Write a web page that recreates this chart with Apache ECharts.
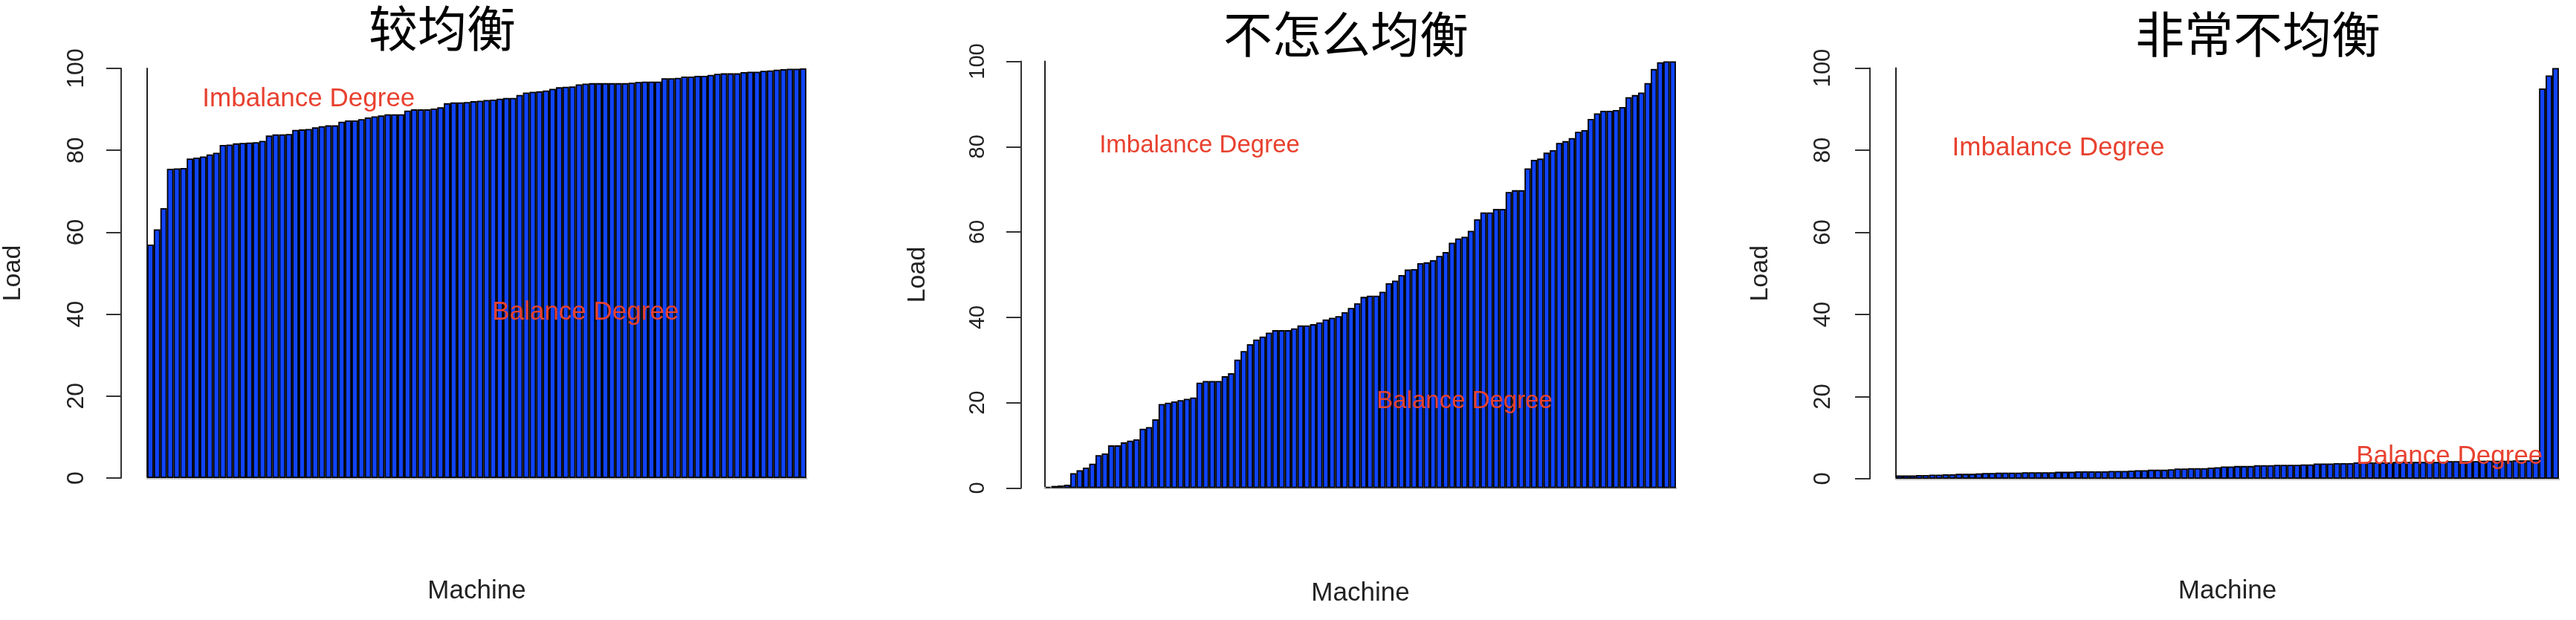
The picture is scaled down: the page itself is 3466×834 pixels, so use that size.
<!DOCTYPE html>
<html>
<head>
<meta charset="utf-8">
<script src="https://cdn.jsdelivr.net/npm/echarts@6/dist/echarts.min.js"></script>
<style>
html,body{margin:0;padding:0;background:#fff;}
#chart{width:3466px;height:834px;}
</style>
</head>
<body>
<div id="chart"></div>
<script>
// ---- data ----
const panelTitles = ['较均衡', '不怎么均衡', '非常不均衡'];
const xName = 'Machine';
const yName = 'Load';
const yTicks = [0, 20, 40, 60, 80, 100];

const balancedLoad = [
  57, 60.7, 65.9, 75.5, 75.6, 75.7, 78, 78.2, 78.5, 79,
  79.4, 81.3, 81.4, 81.7, 81.8, 81.9, 82, 82.3, 83.6, 83.9,
  83.9, 84, 85, 85.1, 85.2, 85.6, 85.9, 86.1, 86.1, 87,
  87.3, 87.3, 87.6, 88, 88.3, 88.5, 88.8, 88.8, 88.8, 89.7,
  90, 90, 90, 90.2, 90.5, 91.5, 91.7, 91.7, 91.8, 92,
  92.1, 92.3, 92.4, 92.6, 92.8, 92.8, 93.5, 94.1, 94.3, 94.4,
  94.6, 95, 95.4, 95.5, 95.6, 96.1, 96.3, 96.4, 96.4, 96.4,
  96.4, 96.4, 96.4, 96.5, 96.7, 96.8, 96.8, 96.8, 97.6, 97.6,
  97.7, 98, 98, 98.2, 98.2, 98.4, 98.7, 98.8, 98.8, 98.8,
  99.1, 99.2, 99.2, 99.4, 99.5, 99.7, 99.8, 99.9, 99.9, 100
];

const somewhatLoad = [
  0.3, 0.5, 0.6, 0.8, 3.5, 4.2, 4.8, 5.7, 7.7, 8.1,
  10.0, 10.0, 10.7, 11.1, 11.4, 13.9, 14.3, 16.1, 19.7, 20.0,
  20.3, 20.6, 20.9, 21.2, 24.7, 25.1, 25.1, 25.1, 26.2, 26.9,
  30.1, 32.1, 33.7, 34.8, 35.5, 36.4, 37.0, 37.0, 37.0, 37.4,
  38.1, 38.1, 38.4, 38.8, 39.5, 39.9, 40.3, 41.2, 42.2, 43.3,
  44.8, 45.1, 45.1, 46.0, 48.0, 48.6, 49.9, 51.2, 51.3, 52.7,
  52.9, 53.4, 54.4, 55.3, 57.5, 58.5, 58.9, 60.3, 63.0, 64.6,
  64.6, 65.4, 65.4, 69.4, 69.8, 69.8, 74.9, 76.9, 77.2, 78.6,
  79.2, 80.9, 81.3, 82.0, 83.5, 83.9, 86.5, 87.8, 88.4, 88.4,
  88.6, 89.3, 91.6, 92.1, 92.7, 94.9, 98.2, 99.8, 100, 100
];

const veryUnbalancedLoad = [
  0.8, 0.8, 0.8, 0.9, 0.9, 1.0, 1.0, 1.1, 1.1, 1.2,
  1.2, 1.2, 1.3, 1.4, 1.4, 1.5, 1.5, 1.5, 1.5, 1.6,
  1.6, 1.6, 1.6, 1.6, 1.7, 1.7, 1.7, 1.8, 1.8, 1.8,
  1.8, 1.8, 1.9, 1.9, 1.9, 2.0, 2.1, 2.1, 2.2, 2.2,
  2.2, 2.3, 2.5, 2.5, 2.6, 2.6, 2.6, 2.7, 2.8, 3.0,
  3.0, 3.1, 3.1, 3.1, 3.3, 3.3, 3.3, 3.4, 3.4, 3.4,
  3.4, 3.5, 3.5, 3.7, 3.7, 3.7, 3.8, 3.8, 3.8, 4.0,
  4.0, 4.0, 4.0, 4.0, 4.0, 4.1, 4.1, 4.1, 4.1, 4.1,
  4.1, 4.1, 4.1, 4.3, 4.3, 4.3, 4.3, 4.3, 4.4, 4.4,
  4.4, 4.4, 4.4, 4.5, 4.5, 4.5, 4.6, 95.0, 98.2, 100
];

// annotation texts, anchored in data coordinates (machine number, load)
const panelNotes = [
  [{ text: 'Imbalance Degree', machine: 25, load: 92.5 }, { text: 'Balance Degree', machine: 67, load: 40.5 }],
  [{ text: 'Imbalance Degree', machine: 25, load: 80.2 }, { text: 'Balance Degree', machine: 67, load: 20.3 }],
  [{ text: 'Imbalance Degree', machine: 25, load: 80.4 }, { text: 'Balance Degree', machine: 84, load: 5.4 }]
];

const panelValues = [balancedLoad, somewhatLoad, veryUnbalancedLoad];

// ---- layout / style ----
const FONT = "'Liberation Sans', Arial, Helvetica, sans-serif";
const CJK = "'Noto Sans CJK SC', 'Noto Sans CJK JP', sans-serif";
const layouts = [
  { left: 192, top: 92, width: 893, height: 551, axisOffset: 35, tickFont: 32, labelMargin: 44, loadGap: 128, machineGap: 135, noteFont: 35, titleX: 595, titleY: 38 },
  { left: 1406, top: 82.5, width: 849, height: 574, axisOffset: 32, tickFont: 29, labelMargin: 44, loadGap: 122, machineGap: 124, noteFont: 33, titleX: 1811, titleY: 46 },
  { left: 2551, top: 91.5, width: 892, height: 552.5, axisOffset: 35, tickFont: 31, labelMargin: 47, loadGap: 130, machineGap: 134, noteFont: 35, titleX: 3038, titleY: 46 }
];

const grid = [], xAxis = [], yAxis = [], series = [], title = [];

panelValues.forEach((values, i) => {
  const L = layouts[i];
  const cats = values.map((_, k) => String(k + 1));
  grid.push({ left: L.left, top: L.top, width: L.width, height: L.height });
  title.push({
    text: panelTitles[i], left: L.titleX - 5, top: L.titleY - 5,
    textAlign: 'center', textVerticalAlign: 'middle',
    textStyle: { fontSize: 66, fontWeight: 'normal', fontFamily: CJK, color: '#000' }
  });
  // bottom category axis (hidden line, carries the name)
  xAxis.push({
    gridIndex: i, type: 'category', data: cats, position: 'bottom', boundaryGap: true,
    axisLine: { show: false }, axisTick: { show: false }, axisLabel: { show: false }, splitLine: { show: false },
    name: xName, nameLocation: 'middle', nameGap: L.machineGap,
    nameTextStyle: { fontSize: 35, color: '#222', fontFamily: FONT }
  });
  // top gray line at 100
  xAxis.push({
    gridIndex: i, type: 'category', data: cats, position: 'top',
    axisLine: { show: true, lineStyle: { color: '#c8c8c8', width: 3 } },
    axisTick: { show: false }, axisLabel: { show: false }, splitLine: { show: false }
  });
  // detached value axis with ticks and rotated labels
  yAxis.push({
    gridIndex: i, type: 'value', position: 'left', offset: L.axisOffset,
    min: yTicks[0], max: yTicks[yTicks.length - 1], interval: yTicks[1] - yTicks[0],
    axisLine: { show: true, lineStyle: { color: '#333', width: 2 } },
    axisTick: { show: true, length: 20, lineStyle: { color: '#333', width: 2 } },
    axisLabel: { rotate: 90, margin: L.labelMargin, fontSize: L.tickFont, color: '#222', fontFamily: FONT },
    splitLine: { show: false },
    name: yName, nameLocation: 'middle', nameGap: L.loadGap,
    nameTextStyle: { fontSize: 34, color: '#222', fontFamily: FONT }
  });
  // left plot border line
  yAxis.push({
    gridIndex: i, type: 'value', position: 'left', offset: 0,
    min: yTicks[0], max: yTicks[yTicks.length - 1],
    axisLine: { show: true, lineStyle: { color: '#222', width: 2 } },
    axisTick: { show: false }, axisLabel: { show: false }, splitLine: { show: false }
  });
  series.push({
    type: 'bar', xAxisIndex: 2 * i, yAxisIndex: 2 * i, data: values,
    barCategoryGap: '0%', silent: true,
    itemStyle: { color: '#1144f8', borderColor: '#000', borderWidth: 1.8 },
    markPoint: {
      symbol: 'circle', symbolSize: 1, silent: true,
      itemStyle: { color: 'rgba(0,0,0,0)' },
      label: { show: true, position: 'inside', formatter: p => p.name, color: '#e8412f', fontSize: L.noteFont, fontFamily: FONT },
      data: panelNotes[i].map(n => ({ name: n.text, coord: [String(n.machine), n.load] }))
    }
  });
});

const chart = echarts.init(document.getElementById('chart'), null, { renderer: 'canvas' });
chart.setOption({
  backgroundColor: '#ffffff',
  animation: false,
  title, grid, xAxis, yAxis, series
});
</script>
</body>
</html>
